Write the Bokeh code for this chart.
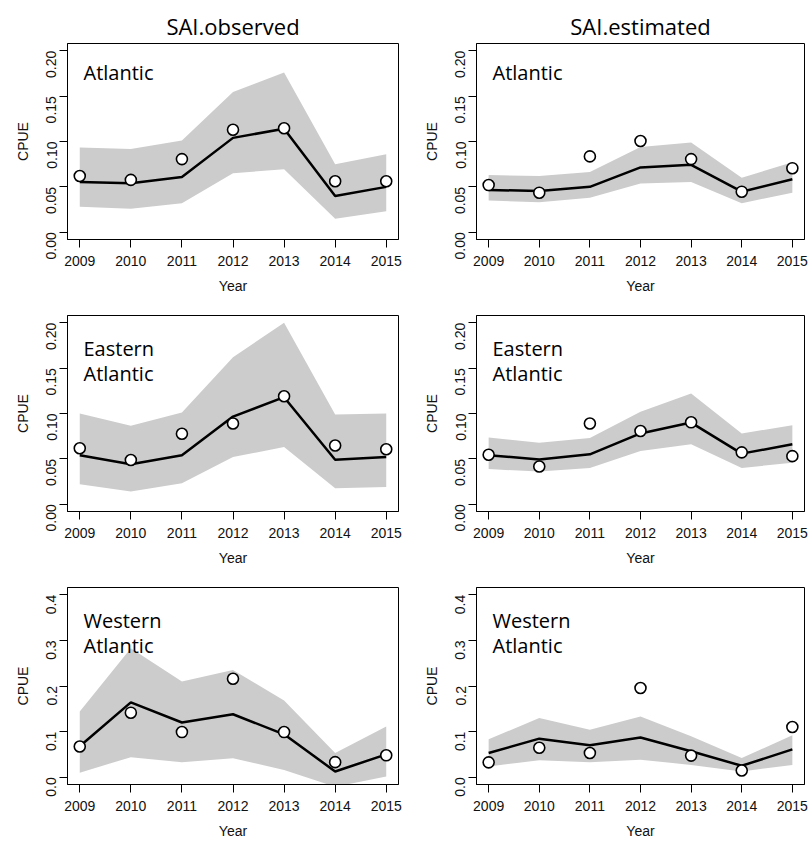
import math
from bokeh.plotting import figure
from bokeh.layouts import column, row
from bokeh.models import FixedTicker, Label, Title
from bokeh.embed import file_html
from bokeh.resources import INLINE

years = [2009, 2010, 2011, 2012, 2013, 2014, 2015]
col_titles = ["SAI.observed", "SAI.estimated"]
region_names = ["Atlantic", "Eastern\nAtlantic", "Western\nAtlantic"]

y_ticks_small = [0.0, 0.05, 0.10, 0.15, 0.20]
y_labels_small = ["0.00", "0.05", "0.10", "0.15", "0.20"]
y_ticks_large = [0.0, 0.1, 0.2, 0.3, 0.4]
y_labels_large = ["0.0", "0.1", "0.2", "0.3", "0.4"]

# Atlantic - observed
atl_obs_pts = [0.062, 0.0577, 0.0806, 0.113, 0.1146, 0.0562, 0.0562]
atl_obs_fit = [0.0555, 0.054, 0.061, 0.104, 0.114, 0.040, 0.050]
atl_obs_lo = [0.028, 0.026, 0.032, 0.065, 0.0695, 0.015, 0.023]
atl_obs_hi = [0.0935, 0.0917, 0.101, 0.1545, 0.176, 0.075, 0.086]
# Atlantic - estimated
atl_est_pts = [0.052, 0.0436, 0.0836, 0.1006, 0.0806, 0.0447, 0.0706]
atl_est_fit = [0.0466, 0.0455, 0.050, 0.0714, 0.0743, 0.0447, 0.0584]
atl_est_lo = [0.035, 0.033, 0.038, 0.0536, 0.0555, 0.032, 0.0436]
atl_est_hi = [0.063, 0.062, 0.0665, 0.094, 0.099, 0.060, 0.077]
# Eastern Atlantic - observed
eas_obs_pts = [0.0617, 0.0487, 0.0777, 0.089, 0.119, 0.0647, 0.0606]
eas_obs_fit = [0.054, 0.044, 0.054, 0.0966, 0.118, 0.049, 0.052]
eas_obs_lo = [0.022, 0.014, 0.023, 0.052, 0.063, 0.0175, 0.019]
eas_obs_hi = [0.100, 0.0866, 0.101, 0.162, 0.200, 0.099, 0.100]
# Eastern Atlantic - estimated
eas_est_pts = [0.0546, 0.0416, 0.089, 0.0807, 0.0903, 0.0572, 0.053]
eas_est_fit = [0.054, 0.0494, 0.055, 0.078, 0.090, 0.0558, 0.066]
eas_est_lo = [0.0387, 0.036, 0.040, 0.0587, 0.066, 0.040, 0.0457]
eas_est_hi = [0.0736, 0.0677, 0.073, 0.102, 0.122, 0.078, 0.087]
# Western Atlantic - observed
wes_obs_pts = [0.0674, 0.1415, 0.099, 0.216, 0.099, 0.033, 0.048]
wes_obs_fit = [0.068, 0.164, 0.120, 0.138, 0.094, 0.0126, 0.050]
wes_obs_lo = [0.010, 0.044, 0.0326, 0.0415, 0.016, -0.021, 0.0015]
wes_obs_hi = [0.144, 0.283, 0.210, 0.235, 0.168, 0.053, 0.111]
# Western Atlantic - estimated
wes_est_pts = [0.0326, 0.0645, 0.053, 0.1956, 0.0474, 0.0148, 0.110]
wes_est_fit = [0.053, 0.0845, 0.070, 0.087, 0.057, 0.025, 0.061]
wes_est_lo = [0.0237, 0.037, 0.033, 0.0385, 0.027, 0.0126, 0.027]
wes_est_hi = [0.083, 0.130, 0.104, 0.133, 0.090, 0.042, 0.092]

panels = [
    [(atl_obs_pts, atl_obs_fit, atl_obs_lo, atl_obs_hi), (atl_est_pts, atl_est_fit, atl_est_lo, atl_est_hi)],
    [(eas_obs_pts, eas_obs_fit, eas_obs_lo, eas_obs_hi), (eas_est_pts, eas_est_fit, eas_est_lo, eas_est_hi)],
    [(wes_obs_pts, wes_obs_fit, wes_obs_lo, wes_obs_hi), (wes_est_pts, wes_est_fit, wes_est_lo, wes_est_hi)],
]

AXIS_FONT = "Liberation Sans"
LABEL_FONT = "Open Sans"

row_heights = [298, 272, 273]
row_top = [43, 17, 17]


def make_panel(r, c):
    pts, fit, lo, hi = panels[r][c]
    if r < 2:
        ticks, tlabels, ymax = y_ticks_small, y_labels_small, 0.20
    else:
        ticks, tlabels, ymax = y_ticks_large, y_labels_large, 0.40
    pad = 0.04 * ymax
    xpad = 0.04 * (years[-1] - years[0])
    x0 = years[0] - xpad
    p = figure(width=406, height=row_heights[r],
               x_range=(x0, years[-1] + xpad),
               y_range=(-pad, ymax + pad),
               output_backend="svg", toolbar_location=None,
               min_border_left=67 if c == 0 else 70, min_border_right=8,
               min_border_top=row_top[r], min_border_bottom=59)
    p.background_fill_color = "white"
    p.border_fill_color = "white"
    p.outline_line_color = "black"
    p.outline_line_width = 1
    p.grid.visible = False

    p.varea(x=years, y1=lo, y2=hi, fill_color="#cccccc")
    p.line(x=years, y=fit, line_color="black", line_width=2.5)
    p.scatter(x=years, y=pts, size=11, fill_color="white", line_color="black", line_width=1.6)

    p.xaxis.ticker = FixedTicker(ticks=years)
    p.xaxis.major_label_overrides = {y: str(y) for y in years}
    p.yaxis.ticker = FixedTicker(ticks=ticks)
    p.yaxis.major_label_overrides = {t: l for t, l in zip(ticks, tlabels)}
    p.yaxis.major_label_orientation = math.pi / 2

    for ax in (p.xaxis, p.yaxis):
        ax.axis_line_color = "black"
        ax.major_tick_line_color = "black"
        ax.major_tick_out = 8
        ax.major_tick_in = 0
        ax.minor_tick_line_color = None
        ax.major_label_text_font = AXIS_FONT
        ax.major_label_text_font_size = "14px"
        ax.major_label_text_color = "#111111"
        ax.axis_label_text_font = AXIS_FONT
        ax.axis_label_text_font_size = "14px"
        ax.axis_label_text_font_style = "normal"
        ax.axis_label_text_color = "#111111"
    p.xaxis.axis_label = "Year"
    p.yaxis.axis_label = "CPUE"
    p.xaxis.major_label_standoff = 8
    p.xaxis.axis_label_standoff = 9
    p.yaxis.major_label_standoff = 8
    p.yaxis.axis_label_standoff = 8

    lines = region_names[r].split("\n")
    offsets = [-29] if len(lines) == 1 else [-33, -58]
    for txt, off in zip(lines, offsets):
        p.add_layout(Label(x=x0, y=ymax + pad, x_offset=16, y_offset=off, text=txt,
                           text_font=LABEL_FONT, text_font_size="20px",
                           text_color="black", text_baseline="alphabetic"))

    if r == 0:
        p.title = Title(text=col_titles[c], align="center", text_font=LABEL_FONT,
                        text_font_size="22px", text_font_style="normal",
                        text_color="black", standoff=6)
    return p


rows = []
for r in range(3):
    rows.append(row(make_panel(r, 0), make_panel(r, 1)))
layout = column(*rows)

open("out.html", "w").write(file_html(layout, INLINE))
